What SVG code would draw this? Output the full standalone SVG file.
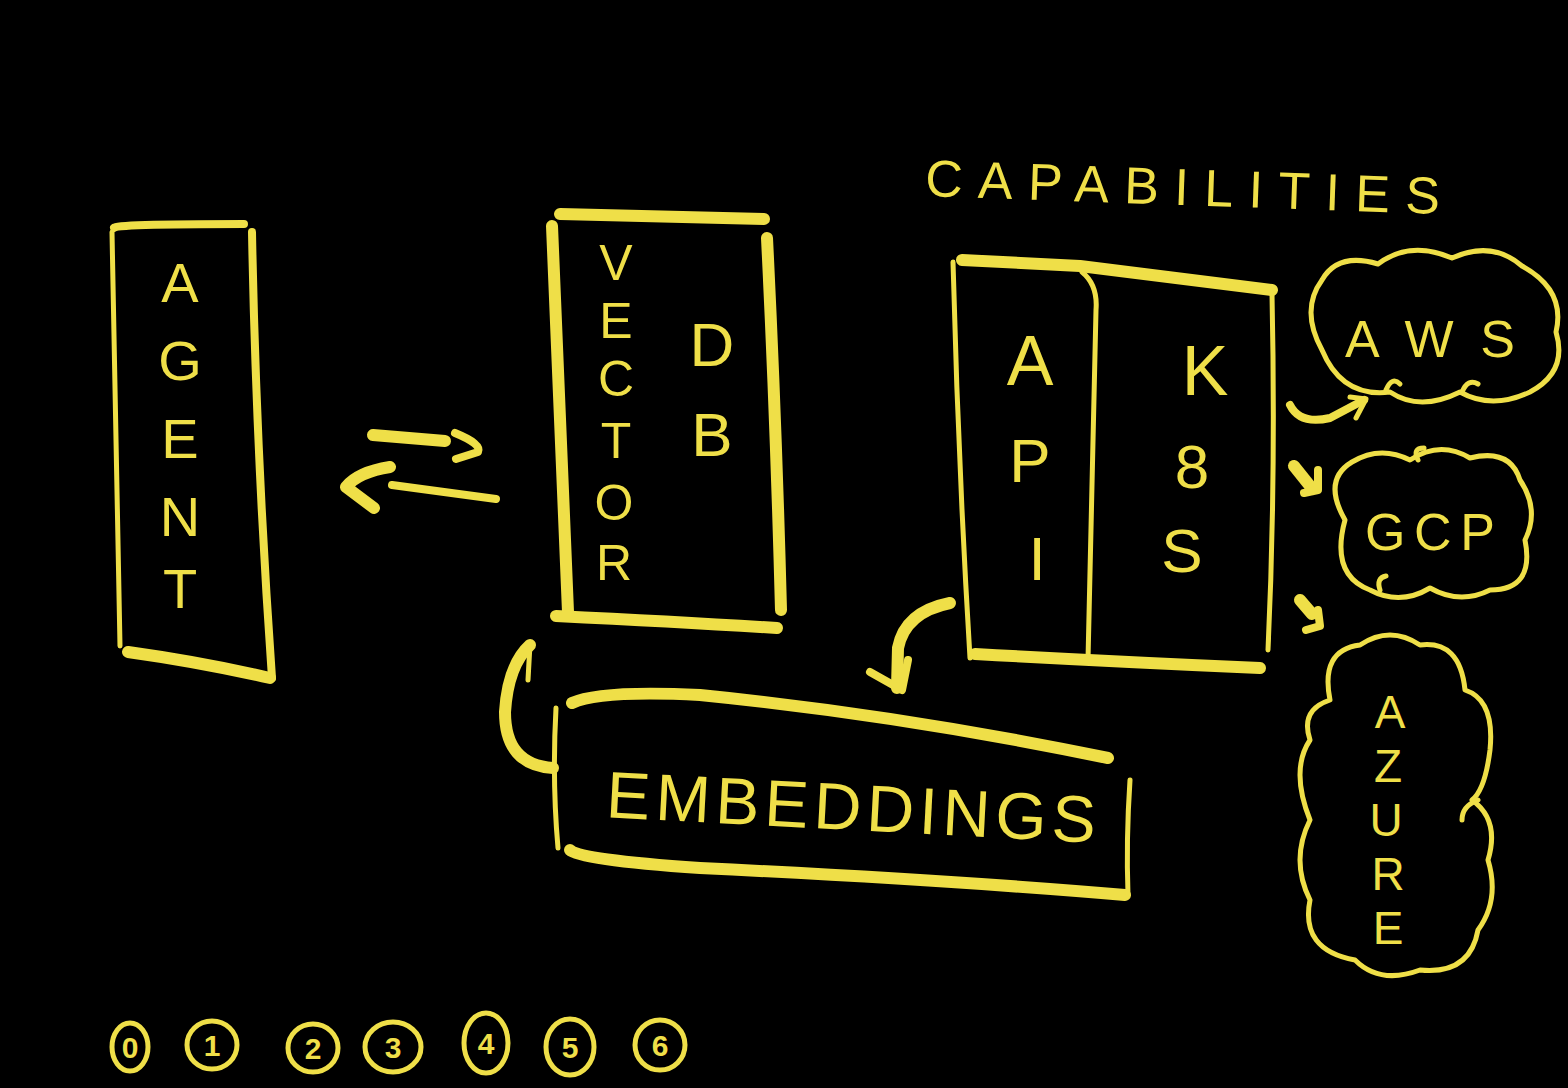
<svg xmlns="http://www.w3.org/2000/svg" width="1568" height="1088" viewBox="0 0 1568 1088">
<style>
.s{fill:none;stroke:#EFDF48;stroke-linecap:round;stroke-linejoin:round;stroke-width:8}
.t{stroke-width:12}
.th{stroke-width:5}
.l{fill:#EFDF48;font-family:"Liberation Sans",Arial,sans-serif;text-anchor:middle}
.a{font-size:56px}
.v{font-size:50px}
.d{font-size:62px}
.z{font-size:46px}
.n{font-size:30px;font-weight:bold}
</style>
<rect width="1568" height="1088" fill="#000"/>
<g id="agent">
<path class="s" d="M114,228 Q112,224 244,224"/>
<path class="s th" d="M112,232 L120,646"/>
<path class="s" d="M252,232 Q256,450 272,678"/>
<path class="s t" d="M128,652 Q200,662 270,678"/>
<text class="l a" x="180" y="302">A</text>
<text class="l a" x="180" y="380">G</text>
<text class="l a" x="180" y="458">E</text>
<text class="l a" x="180" y="536">N</text>
<text class="l a" x="180" y="608">T</text>
</g>
<g id="vectordb">
<path class="s t" d="M560,214 L764,219"/>
<path class="s t" d="M552,226 Q560,420 568,612"/>
<path class="s t" d="M767,238 Q776,420 781,610"/>
<path class="s t" d="M556,616 Q680,622 777,628"/>
<text class="l v" x="616" y="280">V</text>
<text class="l v" x="616" y="338">E</text>
<text class="l v" x="616" y="396">C</text>
<text class="l v" x="616" y="458">T</text>
<text class="l v" x="614" y="520">O</text>
<text class="l v" x="614" y="580">R</text>
<text class="l d" x="712" y="366">D</text>
<text class="l d" x="712" y="456">B</text>
</g>
<g id="api-k8s">
<path class="s t" d="M962,260 L1080,266 L1272,290"/>
<path class="s th" d="M953,262 Q958,460 970,658"/>
<path class="s th" d="M1082,272 Q1098,285 1096,310 Q1092,480 1088,660"/>
<path class="s th" d="M1272,294 Q1276,480 1268,650"/>
<path class="s t" d="M975,654 Q1120,662 1260,668"/>
<text class="l" x="1030" y="385" font-size="70">A</text>
<text class="l d" x="1030" y="482">P</text>
<text class="l d" x="1037" y="580">I</text>
<text class="l" x="1205" y="395" font-size="70">K</text>
<text class="l d" x="1192" y="488">8</text>
<text class="l d" x="1182" y="572">S</text>
</g>
<g id="embeddings">
<path class="s t" d="M572,703 Q600,690 700,695 Q900,715 1108,758"/>
<path class="s th" d="M556,708 Q552,780 558,848"/>
<path class="s t" d="M570,850 Q580,860 700,868 Q950,880 1125,895"/>
<path class="s th" d="M1130,780 Q1126,840 1128,895"/>
<text class="l" x="850" y="830" font-size="66" textLength="490" lengthAdjust="spacing" transform="rotate(3 850 830)">EMBEDDINGS</text>
</g>
<g id="capabilities">
<text class="l" x="1182" y="205" font-size="52" textLength="515" lengthAdjust="spacing" transform="rotate(2 1182 205)">CAPABILITIES</text>
</g>
<g id="aws">
<path class="s th" d="M1322,350 Q1300,310 1322,280 Q1338,252 1378,264 Q1410,240 1452,258 Q1492,240 1522,266 Q1566,290 1556,332 Q1568,372 1530,392 Q1492,410 1460,392 Q1420,412 1390,392 Q1342,398 1322,350 Z"/>
<path class="s th" d="M1462,392 Q1468,378 1478,384"/>
<path class="s th" d="M1386,390 Q1392,376 1400,384"/>
<text class="l" x="1430" y="357" font-size="52" textLength="170" lengthAdjust="spacing">AWS</text>
</g>
<g id="gcp">
<path class="s th" d="M1345,520 Q1322,480 1352,462 Q1380,445 1410,460 Q1440,440 1470,458 Q1510,448 1520,480 Q1540,510 1525,540 Q1535,590 1490,590 Q1460,605 1430,588 Q1400,606 1370,590 Q1330,575 1345,520 Z"/>
<path class="s th" d="M1418,460 Q1412,448 1424,448"/>
<path class="s th" d="M1380,590 Q1376,578 1386,576"/>
<text class="l" x="1430" y="550" font-size="52" textLength="130" lengthAdjust="spacing">GCP</text>
</g>
<g id="azure">
<path class="s th" d="M1330,700 Q1320,650 1360,645 Q1390,625 1420,645 Q1460,640 1465,690 Q1495,700 1490,750 Q1485,790 1472,800 Q1500,820 1488,860 Q1500,900 1478,930 Q1470,975 1420,970 Q1380,985 1355,960 Q1300,950 1310,900 Q1290,860 1310,820 Q1290,770 1310,740 Q1300,710 1330,700 Z"/>
<path class="s th" d="M1478,800 Q1462,806 1462,820"/>
<text class="l z" x="1390" y="728">A</text>
<text class="l z" x="1388" y="782">Z</text>
<text class="l z" x="1386" y="836">U</text>
<text class="l z" x="1388" y="890">R</text>
<text class="l z" x="1388" y="944">E</text>
</g>
<g id="legend">
<ellipse class="s th" cx="130" cy="1047" rx="18" ry="24"/>
<text class="l n" x="130" y="1058">0</text>
<ellipse class="s th" cx="212" cy="1045" rx="25" ry="24"/>
<text class="l n" x="212" y="1056">1</text>
<ellipse class="s th" cx="313" cy="1048" rx="25" ry="24"/>
<text class="l n" x="313" y="1059">2</text>
<ellipse class="s th" cx="393" cy="1047" rx="28" ry="25"/>
<text class="l n" x="393" y="1058">3</text>
<ellipse class="s th" cx="486" cy="1043" rx="22" ry="30"/>
<text class="l n" x="486" y="1054">4</text>
<ellipse class="s th" cx="570" cy="1047" rx="24" ry="28"/>
<text class="l n" x="570" y="1058">5</text>
<ellipse class="s th" cx="660" cy="1045" rx="25" ry="25"/>
<text class="l n" x="660" y="1056">6</text>
</g>
<g id="connectors">
<path class="s t" d="M373,435 L445,441"/>
<path class="s" d="M455,433 Q482,444 478,452 L456,459"/>
<path class="s" d="M392,485 L496,499" stroke-width="16"/>
<path class="s t" d="M390,467 Q358,472 346,487 L374,508"/>
<path class="s t" d="M950,603 Q905,612 898,648 L897,688"/>
<path class="s" d="M870,672 L902,690 L908,660"/>
<path class="s t" d="M553,768 Q505,765 505,712 Q508,665 530,645"/>
<path class="s th" d="M512,668 L530,644 L528,680"/>
<path class="s" d="M1290,405 Q1300,425 1330,418 L1364,400"/>
<path class="s th" d="M1350,397 L1366,399 L1356,418"/>
<path class="s t" d="M1294,466 L1310,486"/>
<path class="s" d="M1304,493 L1318,490 L1318,470"/>
<path class="s t" d="M1300,600 L1312,614"/>
<path class="s" d="M1306,630 L1320,626 L1318,610"/>
</g>
</svg>
